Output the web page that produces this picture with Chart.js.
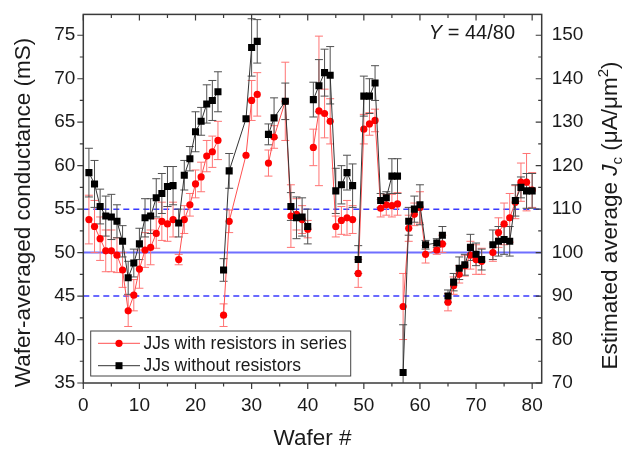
<!DOCTYPE html>
<html><head><meta charset="utf-8">
<script src="https://cdn.jsdelivr.net/npm/chart.js@4.4.0/dist/chart.umd.min.js"></script>
<style>html,body{margin:0;padding:0;background:#fff}#wrap{width:630px;height:451px}</style>
</head><body><div id="wrap"><canvas id="c" width="630" height="451"></canvas></div>
<script>
// ---- data ----
const wafers = [1,2,3,4,5,6,7,8,9,10,11,12,13,14,15,16,17,18,19,20,21,22,23,24,25,26,29,30,31,33,34,36,37,38,39,40,41,42,43,44,45,46,47,48,49,50,51,52,53,54,55,56,57,58,59,60,61,63,64,65,66,67,68,69,70,71,73,74,75,76,77,78,79,80];
const gWithRes = [53.8,53.0,51.6,50.2,50.2,49.7,48.0,43.3,45.1,48.1,50.3,50.6,52.2,53.6,53.3,53.8,49.2,53.8,55.5,57.9,58.7,61.1,61.6,62.9,42.8,53.6,61.2,67.5,68.2,60.3,63.3,67.4,54.2,54.4,53.8,52.7,62.1,66.3,66.0,65.1,53.0,53.7,54.0,53.8,47.6,64.2,64.8,65.2,55.1,55.5,55.4,55.6,43.8,52.8,54.4,55.2,49.8,50.3,51.0,44.3,46.2,47.5,48.5,49.7,49.2,49.0,50.0,52.3,53.3,54.0,55.8,58.1,58.1,57.2];
const errWithRes = [2.8,3.0,2.5,2.4,2.4,2.0,2.0,1.8,1.8,2.2,2.0,2.0,1.7,2.2,2.0,2.0,0.6,1.6,1.3,1.6,1.7,1.8,1.8,2.2,1.3,1.3,0,2.3,2.5,1.5,1.3,4.5,3.6,1.8,1.6,1.0,2.1,8.6,2.8,2.6,1.2,1.6,2.0,1.6,1.6,1.7,1.3,1.3,1.0,1.2,1.3,1.3,3.8,1.5,1.3,1.8,1.0,0.5,1.0,1.0,1.0,1.0,1.2,1.6,1.7,1.5,1.0,1.7,2.4,2.8,1.9,2.2,3.3,2.0];
const gNoRes = [59.2,57.9,55.3,54.2,54.1,53.6,51.3,47.1,48.8,51.0,54.0,54.2,56.3,56.8,57.6,57.7,53.4,58.9,60.8,63.9,65.1,67.1,67.5,68.5,48.0,59.4,65.4,73.6,74.3,63.6,65.5,67.4,55.3,54.0,54.1,53.0,67.6,69.2,70.7,70.4,57.1,57.8,59.2,57.7,49.2,68.0,68.0,69.5,56.0,56.3,58.8,58.8,36.2,53.6,55.0,55.5,50.9,51.1,52.0,45.0,46.6,48.2,48.6,50.6,49.8,49.2,50.9,51.3,51.5,51.3,56.0,57.5,57.1,57.1];
const errNoRes = [2.8,2.7,2.0,2.3,2.6,1.9,1.8,1.9,1.6,1.8,2.2,2.0,2.2,2.3,2.3,2.2,1.6,1.7,1.4,2.3,1.6,2.2,2.3,2.3,1.3,2.0,0,3.3,2.5,1.2,2.3,2.1,1.6,2.4,2.2,2.0,2.0,3.0,2.7,3.3,2.6,2.2,2.0,2.5,1.6,2.3,2.0,2.0,0.8,0.7,2.0,2.0,5.5,1.6,1.5,2.3,0.5,0.5,1.0,0.7,1.0,1.3,1.2,1.5,1.3,1.2,1.7,1.7,1.7,1.7,1.8,1.2,2.0,2.0];
const lotEnds = [16,24,32,40,48,56,64,72];
const refTarget = 50, refBand = [45,55];
const xTickStep = 10, yTickStep = 5, y2TickStep = 10;
const legendLabels = ['JJs with resistors in series','JJs without resistors'];

const FONT = "'Liberation Sans', Arial, sans-serif";
const lotOf = w => lotEnds.filter(e => e < w).length;
function build(vals){
  const pts = [];
  wafers.forEach((w,i)=>{
    if(i>0 && lotOf(w)!==lotOf(wafers[i-1])) pts.push({x:(w+wafers[i-1])/2, y:null});
    pts.push({x:w, y:vals[i]});
  });
  return pts;
}

const background = {
  id:'background',
  beforeDatasetsDraw(chart){
    const ctx=chart.ctx, xs=chart.scales.x, ys=chart.scales.y, a=chart.chartArea;
    ctx.save();
    ctx.beginPath(); ctx.rect(a.left,a.top,a.right-a.left,a.bottom-a.top); ctx.clip();
    // reference lines
    ctx.strokeStyle='#6f6fff'; ctx.lineWidth=2;
    let y=ys.getPixelForValue(refTarget);
    ctx.beginPath(); ctx.moveTo(a.left,y); ctx.lineTo(a.right,y); ctx.stroke();
    ctx.strokeStyle='#3a3aff'; ctx.lineWidth=1.5; ctx.setLineDash([6,4]);
    refBand.forEach(v=>{ const yy=ys.getPixelForValue(v); ctx.beginPath(); ctx.moveTo(a.left,yy); ctx.lineTo(a.right,yy); ctx.stroke(); });
    ctx.setLineDash([]);
    // error bars
    [[gWithRes,errWithRes,'#ff7474'],[gNoRes,errNoRes,'#505050']].forEach(([g,e,col])=>{
      ctx.strokeStyle=col; ctx.lineWidth=1;
      wafers.forEach((w,i)=>{
        if(!e[i]) return;
        const x=xs.getPixelForValue(w), y1=ys.getPixelForValue(g[i]-e[i]), y2=ys.getPixelForValue(g[i]+e[i]);
        ctx.beginPath();
        ctx.moveTo(x,y1); ctx.lineTo(x,y2);
        ctx.moveTo(x-4,y1); ctx.lineTo(x+4,y1);
        ctx.moveTo(x-4,y2); ctx.lineTo(x+4,y2);
        ctx.stroke();
      });
    });
    ctx.restore();
  }
};

const frame = {
  id:'frame',
  afterDatasetsDraw(chart){
    const ctx=chart.ctx, xs=chart.scales.x, ys=chart.scales.y, y2=chart.scales.y2, a=chart.chartArea;
    ctx.save();
    ctx.strokeStyle='#3a3a3a'; ctx.lineWidth=1.5;
    ctx.strokeRect(a.left,a.top,a.right-a.left,a.bottom-a.top);
    ctx.lineWidth=1.2;
    ctx.beginPath();
    for(let v=0; v<=xs.max+1e-6; v+=xTickStep/2){
      const x=xs.getPixelForValue(v), L=(v%xTickStep===0)?6:3.5;
      ctx.moveTo(x,a.bottom); ctx.lineTo(x,a.bottom+L);
      ctx.moveTo(x,a.top); ctx.lineTo(x,a.top+L);
    }
    for(let v=ys.min; v<=ys.max+1e-6; v+=yTickStep/2){
      const y=ys.getPixelForValue(v), L=(Math.abs(v%yTickStep)<1e-6)?6:3.5;
      ctx.moveTo(a.left,y); ctx.lineTo(a.left-L,y);
    }
    for(let v=y2.min; v<=y2.max+1e-6; v+=y2TickStep/2){
      const y=y2.getPixelForValue(v), L=(Math.abs(v%y2TickStep)<1e-6)?6:3.5;
      ctx.moveTo(a.right,y); ctx.lineTo(a.right-L,y);
    }
    ctx.stroke();
    ctx.restore();
  }
};

const texts = {
  id:'texts',
  afterDraw(chart){
    const ctx=chart.ctx, a=chart.chartArea;
    ctx.save();
    ctx.fillStyle='#1a1a1a';
    // x title
    ctx.font='22.5px '+FONT; ctx.textAlign='center'; ctx.textBaseline='middle';
    ctx.fillText('Wafer #', (a.left+a.right)/2, 439);
    // left title
    ctx.save(); ctx.translate(24, 212.5); ctx.rotate(-Math.PI/2);
    ctx.fillText('Wafer-averaged conductance (mS)', 0, 0);
    ctx.restore();
    // right title with italic J, subscript c, superscript 2
    const parts=[
      {t:'Estimated average ', f:'22.5px '+FONT, dy:0},
      {t:'J', f:'italic 22.5px '+FONT, dy:0},
      {t:'c', f:'15px '+FONT, dy:5},
      {t:' (\u03bcA/\u03bcm', f:'22.5px '+FONT, dy:0},
      {t:'2', f:'15px '+FONT, dy:-9},
      {t:')', f:'22.5px '+FONT, dy:0}
    ];
    let total=0; parts.forEach(p=>{ctx.font=p.f; p.w=ctx.measureText(p.t).width; total+=p.w;});
    ctx.save(); ctx.translate(609, 215.5); ctx.rotate(-Math.PI/2);
    ctx.textAlign='left'; ctx.textBaseline='alphabetic';
    let px=-total/2;
    parts.forEach(p=>{ ctx.font=p.f; ctx.fillText(p.t, px, 8+p.dy); px+=p.w; });
    ctx.restore();
    // Y = 44/80
    ctx.textBaseline='middle'; ctx.textAlign='left';
    ctx.font='20px '+FONT; const rest=' = 44/80'; const wr=ctx.measureText(rest).width;
    ctx.font='italic 20px '+FONT; const wy=ctx.measureText('Y').width;
    const xr=515; ctx.fillText('Y', xr-wr-wy, 33);
    ctx.font='20px '+FONT; ctx.fillText(rest, xr-wr, 33);
    // legend
    ctx.fillStyle='#fff'; ctx.fillRect(90.7,331,260,45);
    ctx.strokeStyle='#444'; ctx.lineWidth=1; ctx.strokeRect(90.7,331,260,45);
    const rows=[{y:343.3,line:'#ff5050',pt:'#ff0000',sq:false},{y:365.7,line:'#333',pt:'#000',sq:true}];
    rows.forEach((r,i)=>{
      ctx.strokeStyle=r.line; ctx.lineWidth=1;
      ctx.beginPath(); ctx.moveTo(98,r.y); ctx.lineTo(140,r.y); ctx.stroke();
      ctx.fillStyle=r.pt;
      if(r.sq){ ctx.fillRect(119-3.5,r.y-3.5,7,7); }
      else { ctx.beginPath(); ctx.arc(119,r.y,3.6,0,Math.PI*2); ctx.fill(); }
      ctx.fillStyle='#1a1a1a'; ctx.font='17.5px '+FONT; ctx.textAlign='left'; ctx.textBaseline='middle';
      ctx.fillText(legendLabels[i], 143.5, r.y+0.5);
    });
    ctx.restore();
  }
};

const tickFont = {family:FONT, size:19};
new Chart(document.getElementById('c'), {
  type:'line',
  data:{ datasets:[
    { label:legendLabels[0], data:build(gWithRes), borderColor:'#ff5050', borderWidth:1,
      pointStyle:'circle', pointRadius:3.6, pointBackgroundColor:'#ff0000', pointBorderColor:'#ff0000', pointBorderWidth:0,
      spanGaps:false, order:2, yAxisID:'y' },
    { label:legendLabels[1], data:build(gNoRes), borderColor:'#333', borderWidth:1,
      pointStyle:'rect', pointRadius:5, pointBackgroundColor:'#000', pointBorderColor:'#000', pointBorderWidth:0,
      spanGaps:false, order:1, yAxisID:'y' }
  ]},
  options:{
    responsive:false, animation:false, devicePixelRatio:1,
    layout:{padding:{top:12.5, left:0, right:0, bottom:0}},
    plugins:{legend:{display:false}, tooltip:{enabled:false}},
    scales:{
      x:{ type:'linear', min:0, max:81.7, position:'bottom',
          ticks:{stepSize:xTickStep, includeBounds:false, font:tickFont, color:'#1a1a1a', padding:6, maxRotation:0},
          grid:{display:true, drawOnChartArea:false, drawTicks:true, tickLength:5, tickColor:'rgba(0,0,0,0)'},
          border:{display:false},
          afterFit(s){ s.height=68; } },
      y:{ type:'linear', min:35, max:77.4, position:'left',
          ticks:{stepSize:yTickStep, includeBounds:false, font:tickFont, color:'#1a1a1a', padding:3},
          grid:{display:true, drawOnChartArea:false, drawTicks:true, tickLength:5, tickColor:'rgba(0,0,0,0)'},
          border:{display:false},
          afterFit(s){ s.width=83.3; } },
      y2:{ type:'linear', min:70, max:154.8, position:'right',
          ticks:{stepSize:y2TickStep, includeBounds:false, font:tickFont, color:'#1a1a1a', padding:3},
          grid:{display:true, drawOnChartArea:false, drawTicks:true, tickLength:7, tickColor:'rgba(0,0,0,0)'},
          border:{display:false},
          afterFit(s){ s.width=88.3; } }
    }
  },
  plugins:[background, frame, texts]
});
</script></body></html>
